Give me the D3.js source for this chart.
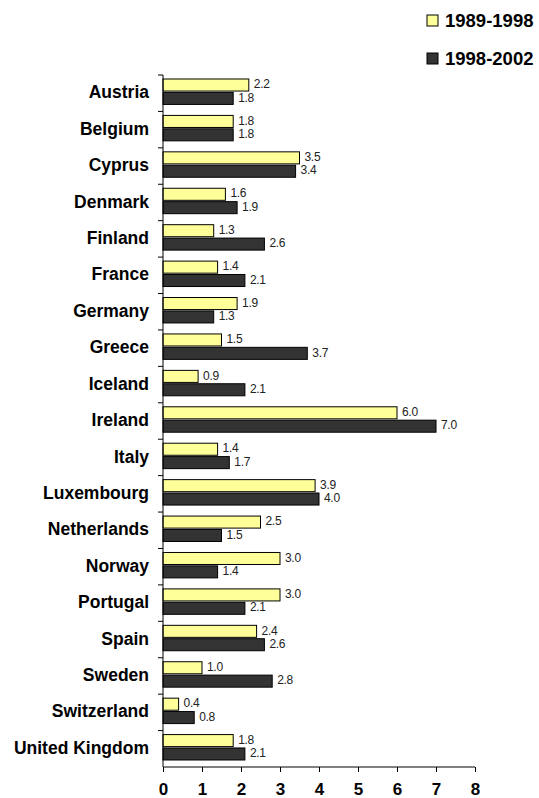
<!DOCTYPE html>
<html><head><meta charset="utf-8">
<script src="https://cdn.jsdelivr.net/npm/d3@7"></script>
<style>body{margin:0;background:#fff}svg{display:block}</style>
</head><body>
<script>
const categories = ["Austria","Belgium","Cyprus","Denmark","Finland","France","Germany","Greece","Iceland","Ireland","Italy","Luxembourg","Netherlands","Norway","Portugal","Spain","Sweden","Switzerland","United Kingdom"];
const series1989 = [2.2,1.8,3.5,1.6,1.3,1.4,1.9,1.5,0.9,6.0,1.4,3.9,2.5,3.0,3.0,2.4,1.0,0.4,1.8];
const series1998 = [1.8,1.8,3.4,1.9,2.6,2.1,1.3,3.7,2.1,7.0,1.7,4.0,1.5,1.4,2.1,2.6,2.8,0.8,2.1];
const seriesNames = ["1989-1998","1998-2002"];
const xTicks = [0,1,2,3,4,5,6,7,8];
const colors = ["#FFFF99","#333333"];

const W=539,H=798;
const FONT="Liberation Sans, Arial, sans-serif";
const svg=d3.select("body").append("svg").attr("width",W).attr("height",H);
const x=d3.scaleLinear().domain([0,8]).range([163,475]);
const y=d3.scaleBand().domain(categories).range([75,767]);
const inner=d3.scaleBand().domain([0,1]).range([4,y.bandwidth()-7]).paddingInner(0.1);

const rows = categories.map((c,i)=>({c, v:[series1989[i],series1998[i]]}));
const g=svg.append("g");
rows.forEach(r=>{
  r.v.forEach((v,k)=>{
    const y0=y(r.c)+inner(k);
    g.append("rect").attr("x",x(0)).attr("y",y0).attr("width",x(v)-x(0)).attr("height",inner.bandwidth())
      .attr("fill",colors[k]).attr("stroke","#000").attr("stroke-width",1);
    g.append("text").attr("x",x(v)+5).attr("y",y0+inner.bandwidth()/2-1).attr("dy","0.35em")
      .attr("font-family",FONT).attr("font-size",12).attr("letter-spacing","-0.3px")
      .attr("fill","#222").text(v.toFixed(1));
  });
});

// y axis
const ya=svg.append("g").attr("transform",`translate(${x(0)},0)`);
ya.append("line").attr("x1",0).attr("x2",0).attr("y1",75).attr("y2",767).attr("stroke","#000");
const bounds=categories.map(c=>y(c));
ya.selectAll("line.t").data(bounds).join("line").attr("class","t").attr("x1",-5).attr("x2",0).attr("y1",d=>d).attr("y2",d=>d).attr("stroke","#000");
svg.append("g").selectAll("text").data(categories).join("text")
  .attr("x",149).attr("y",c=>y(c)+y.bandwidth()/2-1).attr("dy","0.35em").attr("text-anchor","end")
  .attr("font-family",FONT).attr("font-weight","bold").attr("font-size",17.5).attr("fill","#000").text(c=>c);

// x axis
const xa=svg.append("g").attr("transform","translate(0,767)")
  .call(d3.axisBottom(x).tickValues(xTicks).tickFormat(d3.format("d")).tickSize(5).tickPadding(11));
xa.select(".domain").attr("d",`M${x(0)},0H${x(8)}`).attr("stroke","#000");
xa.selectAll("line").attr("stroke","#000");
xa.selectAll("text").attr("font-family",FONT).attr("font-weight","bold").attr("font-size",17).attr("fill","#000");

// legend
const lg=svg.append("g");
seriesNames.forEach((n,k)=>{
  const yy=15+k*38;
  lg.append("rect").attr("x",427).attr("y",yy).attr("width",11).attr("height",11).attr("fill",colors[k]).attr("stroke","#000");
  lg.append("text").attr("x",445).attr("y",yy+6).attr("dy","0.35em").attr("font-family",FONT)
    .attr("font-weight","bold").attr("font-size",18.5).attr("fill","#000").text(n);
});
</script>
</body></html>
